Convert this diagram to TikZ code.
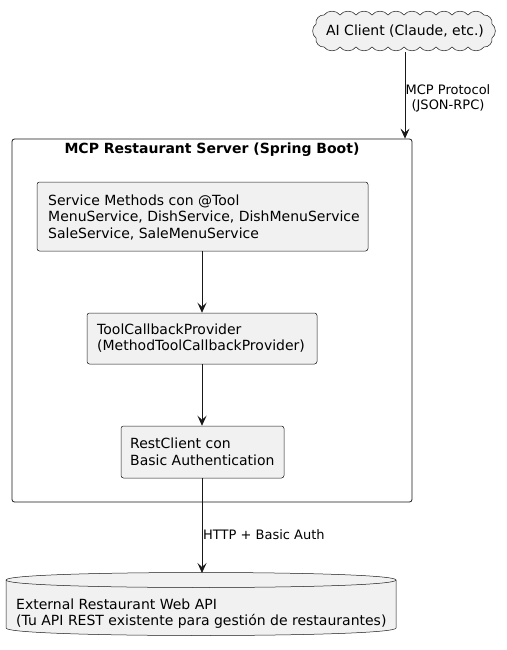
\documentclass[tikz,border=0pt]{standalone}
\usepackage{fontspec}
\setmainfont{DejaVu Sans}
\usetikzlibrary{arrows.meta}
\definecolor{boxfill}{HTML}{F1F1F1}
\definecolor{boxline}{HTML}{181818}
\tikzset{
  comp/.style={draw=boxline, fill=boxfill, line width=0.5pt, rounded corners=2.5pt, inner sep=0pt},
  comptext/.style={inner sep=0pt, anchor=west, align=left, font=\fontsize{14}{16.5}\selectfont},
  conn/.style={draw=boxline, line width=0.8pt, -{Stealth[length=10pt,width=9pt,inset=4pt]}},
  lbl/.style={font=\fontsize{13}{15}\selectfont, inner sep=0pt},
  shapeline/.style={draw=boxline, fill=boxfill, line width=0.5pt}
}
\begin{document}
\begin{tikzpicture}[x=1pt,y=-1pt]
\useasboundingbox (0,0) rectangle (506,650);
% cloud
\path[shapeline]
  (324,15) \foreach \x in {340,356,372,388,404,420,436,452,468,484} { to[bend left=55] (\x,15) }
  to[bend left=55] (492,24) to[bend left=55] (492,38) to[bend left=55] (484,47)
  \foreach \x in {468,452,436,420,404,388,372,356,340,324} { to[bend left=55] (\x,47) }
  to[bend left=55] (316,38) to[bend left=55] (316,24) to[bend left=55] (324,15) -- cycle;
\node[inner sep=0pt, minimum width=184pt, minimum height=42pt, font=\fontsize{14}{16.5}\selectfont] (ai) at (405,31) {AI Client (Claude, etc.)};
% server
\node[draw=boxline, fill=white, line width=0.8pt, rounded corners=2.5pt, minimum width=400pt, minimum height=363pt, inner sep=0pt] (srv) at (212,320.5) {};
\node[font=\bfseries\fontsize{14}{16.5}\selectfont, inner sep=0pt] (title) at (212,150) {MCP Restaurant Server (Spring Boot)};
% components
\node[comp, minimum width=331pt, minimum height=69pt] (svc) at (202.5,216.5) {};
\node[comptext] (svct) at (48,217)
  {Service Methods con @Tool\\MenuService, DishService, DishMenuService\\SaleService, SaleMenuService};
\node[comp, minimum width=230pt, minimum height=51pt] (tcp) at (202,338.5) {};
\node[comptext] (tcpt) at (97,338)
  {ToolCallbackProvider\\(MethodToolCallbackProvider)};
\node[comp, minimum width=163pt, minimum height=52pt] (rc) at (202.5,452) {};
\node[comptext] (rct) at (130,452)
  {RestClient con\\Basic Authentication};
% database
\path[shapeline] (6,580) .. controls (6,570) and (396,570) .. (396,580) -- (396,628)
  .. controls (396,638) and (6,638) .. (6,628) -- cycle;
\draw[boxline, line width=0.5pt] (6,580) .. controls (6,590) and (396,590) .. (396,580);
\node[inner sep=0pt, minimum width=390pt, minimum height=63pt] (api) at (201,604) {};
\node[comptext, font=\fontsize{14}{16}\selectfont] (apitxt) at (16,614)
  {External Restaurant Web API\\(Tu API REST existente para gestión de restaurantes)};
% connectors
\draw[conn] (ai.south) -- (ai.south |- srv.north);
\node[lbl, align=center] (l1) at (448,98) {MCP Protocol\\(JSON-RPC)};
\draw[conn] (svc.south -| tcp.north) -- (tcp.north);
\draw[conn] (tcp.south) -- (tcp.south |- rc.north);
\draw[conn] (rc.south -| tcp.north) -- (tcp.north |- 0,573);
\node[lbl, anchor=west] (l2) at (203,535) {HTTP + Basic Auth};
\end{tikzpicture}
\end{document}
